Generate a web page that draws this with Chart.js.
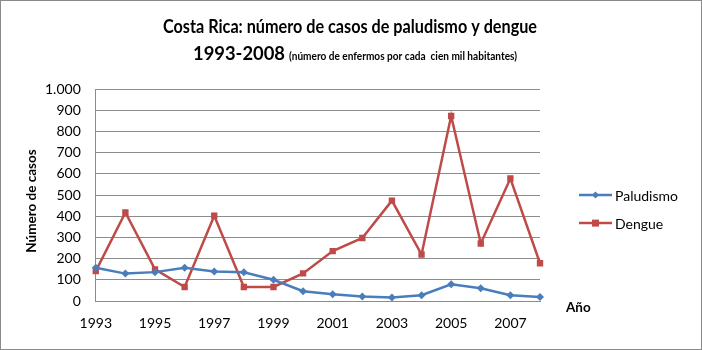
<!DOCTYPE html>
<html>
<head>
<meta charset="utf-8">
<script src="https://cdn.jsdelivr.net/npm/chart.js@4/dist/chart.umd.min.js"></script>
<style>
  html, body { margin: 0; padding: 0; background: #fff; }
  #wrap { width: 702px; height: 350px; position: relative; }
</style>
</head>
<body>
<div id="wrap"><canvas id="myChart" width="702" height="350"></canvas></div>
<script>
// years on the x axis
const years = ['1993', '1994', '1995', '1996', '1997', '1998', '1999', '2000',
               '2001', '2002', '2003', '2004', '2005', '2006', '2007', '2008']
// cases per 100 000 inhabitants
const paludismo = [158, 130, 137, 158, 140, 136, 101, 47, 33, 22, 17, 28, 80, 61, 28, 20]
const dengue = [142, 418, 150, 67, 403, 67, 67, 131, 236, 298, 474, 220, 873, 272, 578, 179]

const titleLine1 = 'Costa Rica: número de casos de paludismo y dengue'
const titleYears = '1993-2008'
const titleNote = '(número de enfermos por cada  cien mil habitantes)'
const yTitle = 'Número de casos'
const xTitle = 'Año'

const FONT = 'Lato, "Open Sans", sans-serif'
const BLUE = '#4A7EBB'
const RED = '#BE4B48'
const GRID = '#8C8C8C'

// draw text squeezed to a given width (the original uses a narrow font)
function fitText(ctx, text, font, x, y, width) {
    ctx.font = font
    const w = ctx.measureText(text).width
    ctx.save()
    ctx.translate(x, y)
    ctx.scale(width / w, 1)
    ctx.fillText(text, 0, 0)
    ctx.restore()
}

function marker(ctx, shape, x, y, r) {
    ctx.beginPath()
    if (shape === 'rect') {
        ctx.rect(x - r, y - r, 2 * r, 2 * r)
    } else {
        ctx.moveTo(x, y - r)
        ctx.lineTo(x + r, y)
        ctx.lineTo(x, y + r)
        ctx.lineTo(x - r, y)
        ctx.closePath()
    }
    ctx.fill()
}

const extras = {
    id: 'extras',
    beforeDraw(chart) {
        const ctx = chart.ctx
        ctx.save()
        ctx.fillStyle = '#fff'
        ctx.fillRect(0, 0, chart.width, chart.height)
        ctx.restore()
    },
    afterDraw(chart) {
        const ctx = chart.ctx
        const area = chart.chartArea
        ctx.save()
        // outer frame
        ctx.strokeStyle = '#8a8a8a'
        ctx.lineWidth = 1
        ctx.strokeRect(0.5, 0.5, chart.width - 1, chart.height - 1)

        // two-line title, second line mixes sizes
        ctx.fillStyle = '#000'
        ctx.textBaseline = 'alphabetic'
        ctx.textAlign = 'left'
        fitText(ctx, titleLine1, 'bold 18.5px ' + FONT, 163, 33, 374)
        fitText(ctx, titleYears, 'bold 19px ' + FONT, 193, 60, 92)
        fitText(ctx, titleNote, 'bold 12px ' + FONT, 289, 60, 228)

        // y axis title, rotated
        ctx.save()
        ctx.translate(32, 201)
        ctx.rotate(-Math.PI / 2)
        ctx.textAlign = 'center'
        ctx.textBaseline = 'middle'
        ctx.font = 'bold 13.5px ' + FONT
        ctx.fillText(yTitle, 0, 0)
        ctx.restore()

        // x axis title sits to the right of the axis end
        ctx.font = 'bold 13.5px ' + FONT
        ctx.textBaseline = 'middle'
        ctx.fillText(xTitle, area.right + 26, area.bottom + 6)

        // legend: line with marker, then the series name
        const midY = (area.top + area.bottom) / 2
        chart.data.datasets.forEach((ds, i) => {
            const y = midY + i * 28
            const x0 = area.right + 39
            ctx.strokeStyle = ds.borderColor
            ctx.fillStyle = ds.borderColor
            ctx.lineWidth = 2.5
            ctx.beginPath()
            ctx.moveTo(x0, y)
            ctx.lineTo(x0 + 33, y)
            ctx.stroke()
            marker(ctx, ds.pointStyle, x0 + 16.5, y, 3.5)
            ctx.fillStyle = '#000'
            ctx.font = '14px ' + FONT
            ctx.fillText(ds.label, x0 + 36, y + 1)
        })
        ctx.restore()
    }
}

new Chart(document.getElementById('myChart'), {
    type: 'line',
    data: {
        labels: years,
        datasets: [
            {
                label: 'Paludismo',
                data: paludismo,
                borderColor: BLUE,
                backgroundColor: BLUE,
                borderWidth: 2.5,
                pointStyle: 'rectRot',
                pointRadius: 4,
                pointBorderWidth: 0,
                tension: 0
            },
            {
                label: 'Dengue',
                data: dengue,
                borderColor: RED,
                backgroundColor: RED,
                borderWidth: 2.5,
                pointStyle: 'rect',
                pointRadius: 4.5,
                pointBorderWidth: 0,
                tension: 0
            }
        ]
    },
    options: {
        responsive: false,
        animation: false,
        layout: { padding: { top: 89, right: 162, bottom: 4, left: 30 } },
        plugins: {
            title: { display: false },
            tooltip: { enabled: false },
            legend: { display: false }
        },
        scales: {
            x: {
                offset: false,
                grid: { display: false, drawTicks: false },
                border: { display: true, color: GRID, width: 1 },
                ticks: {
                    color: '#000',
                    font: { family: FONT, size: 14 },
                    padding: 14,
                    maxRotation: 0,
                    autoSkip: false,
                    callback(v, i) { return i % 2 === 0 ? years[i] : '' }
                }
            },
            y: {
                min: 0,
                max: 1000,
                grid: { color: GRID, lineWidth: 1, drawTicks: false },
                border: { display: true, color: GRID, width: 1 },
                ticks: {
                    stepSize: 100,
                    color: '#000',
                    font: { family: FONT, size: 14 },
                    padding: 15,
                    callback(v) { return String(v).replace(/\B(?=(\d{3})+(?!\d))/g, '.') }
                }
            }
        }
    },
    plugins: [extras]
})
</script>
</body>
</html>
